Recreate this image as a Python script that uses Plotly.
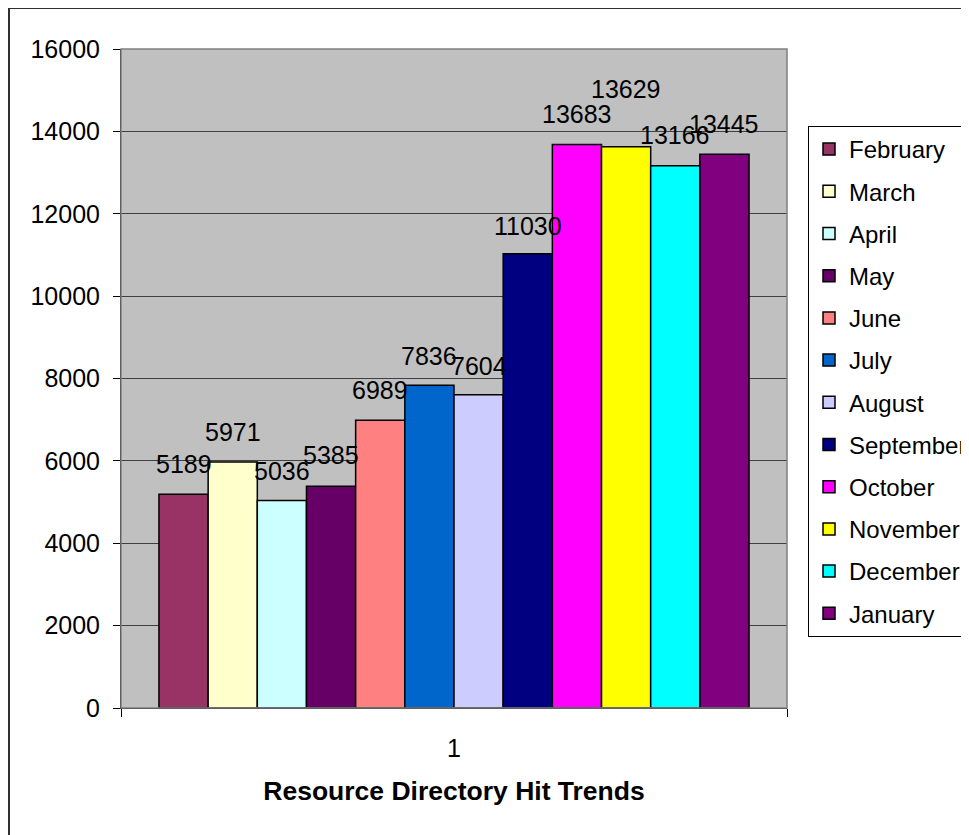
import plotly.graph_objects as go

months = ["February", "March", "April", "May", "June", "July", "August",
          "September", "October", "November", "December", "January"]
hits = [5189, 5971, 5036, 5385, 6989, 7836, 7604, 11030, 13683, 13629, 13166, 13445]
colors = ["#993366", "#FFFFCC", "#CCFFFF", "#660066", "#FF8080", "#0066CC",
          "#CCCCFF", "#000080", "#FF00FF", "#FFFF00", "#00FFFF", "#800080"]
label_shift = [30, 30, 30, 31, 30, 29, 29, 28, 30, 58, 31, 30]  # px above bar top
category = ["1"]
y_ticks = [0, 2000, 4000, 6000, 8000, 10000, 12000, 14000, 16000]

FONT = "Liberation Sans, Arial, sans-serif"
FS = 25
BARGAP = 0.114
W, H = 961, 827
L, T, PW, PH = 113, 41, 666, 659

fig = go.Figure()
for m, v, c in zip(months, hits, colors):
    fig.add_trace(go.Bar(
        x=category, y=[v], name=m, legendgroup=m,
        marker=dict(color=c, line=dict(color="black", width=1.5)),
    ))

n = len(hits)
w = (1 - BARGAP) / n
for i, (v, s) in enumerate(zip(hits, label_shift)):
    fig.add_annotation(
        x=-(1 - BARGAP) / 2 + w * (i + 0.5), y=v, xref="x", yref="y",
        text=str(v), showarrow=False, yanchor="middle", yshift=s,
        font=dict(family=FONT, size=FS, color="black"),
    )

fig.update_layout(
    width=W, height=H,
    margin=dict(l=L, r=W - L - PW, t=T, b=H - T - PH, autoexpand=False),
    paper_bgcolor="white", plot_bgcolor="#C0C0C0",
    barmode="group", bargap=BARGAP, bargroupgap=0,
    font=dict(family=FONT, size=FS, color="black"),
    showlegend=True,
    legend=dict(
        x=(808 - 8 - L) / PW, y=1 - (126 - 8 - T) / PH,
        xanchor="left", yanchor="top",
        bgcolor="white", bordercolor="black", borderwidth=1,
        font=dict(family=FONT, size=24, color="black"),
        tracegroupgap=8, traceorder="grouped",
    ),
    xaxis=dict(
        type="category", showgrid=False, showline=True, linecolor="black",
        linewidth=1, ticks="outside", tickson="boundaries", ticklen=8,
        tickcolor="black", ticklabelstandoff=18,
        title=dict(text="<b>Resource Directory Hit Trends</b>", standoff=20,
                   font=dict(family=FONT, size=26.5, color="black")),
    ),
    yaxis=dict(
        range=[0, 16000], tickvals=y_ticks, ticktext=[str(t) for t in y_ticks],
        showgrid=True, gridcolor="#404040",
        gridwidth=1, showline=True, linecolor="black", linewidth=1,
        ticks="outside", ticklen=7, tickcolor="black", ticklabelstandoff=8,
        zeroline=False,
    ),
    shapes=[
        dict(type="rect", xref="paper", yref="paper", x0=0, x1=1, y0=0, y1=1,
             line=dict(color="#808080", width=1.5), layer="above"),
        dict(type="rect", xref="paper", yref="paper",
             x0=(1 - L) / PW, x1=(W + 30 - L) / PW,
             y0=1 - (H + 30 - T) / PH, y1=1 + (T - 0) / PH,
             line=dict(color="#303030", width=2)),
    ],
)

fig.write_html("out.html")
